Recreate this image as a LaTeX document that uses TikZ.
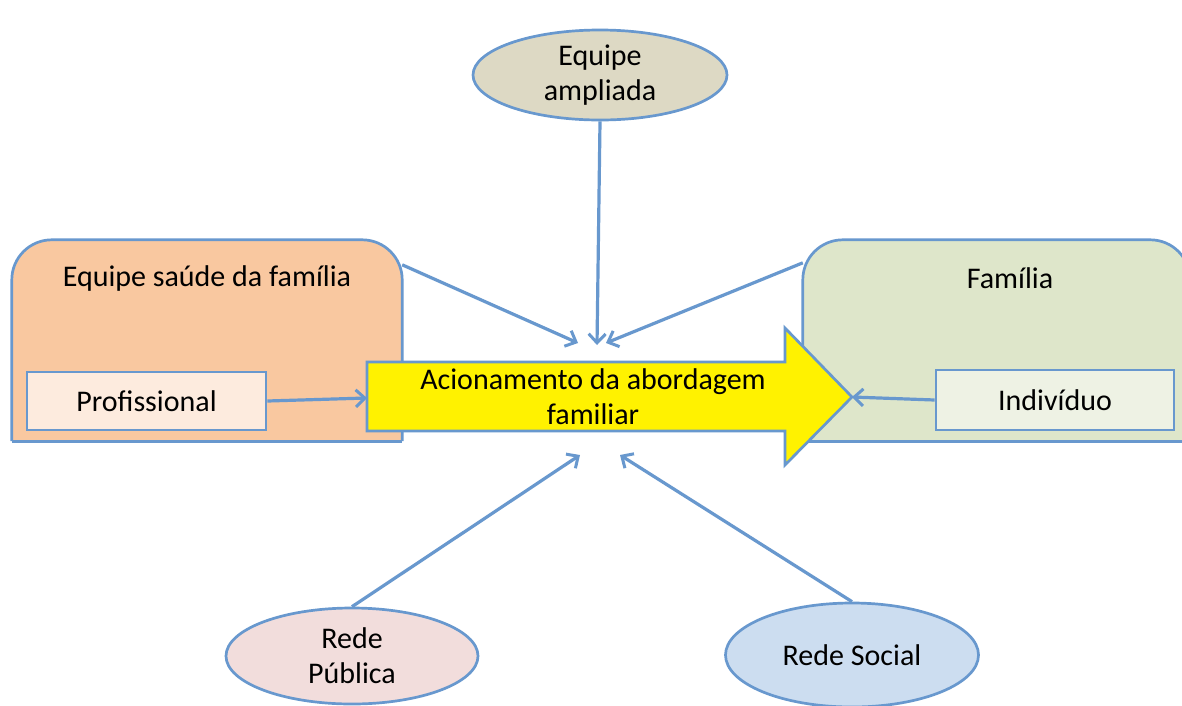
\documentclass[tikz,border=0pt]{standalone}
\usepackage{fontspec}
\setmainfont{Carlito}
\usetikzlibrary{arrows.meta,shapes.geometric}
\definecolor{edge}{RGB}{104,152,206}
\definecolor{peach}{RGB}{249,200,160}
\definecolor{peachlight}{RGB}{253,235,222}
\definecolor{sage}{RGB}{222,230,202}
\definecolor{sagelight}{RGB}{238,242,228}
\definecolor{khaki}{RGB}{221,217,196}
\definecolor{rose}{RGB}{242,221,220}
\definecolor{sky}{RGB}{204,221,240}
\tikzset{
  lbl/.style={font=\fontsize{30}{35}\selectfont, align=center, inner sep=0pt},
  frame/.style={draw=none, inner sep=0pt},
  boxline/.style={draw=edge, line width=2.7pt, line join=round},
  inner/.style={draw=edge, line width=2.7pt, inner sep=0pt, font=\fontsize{30}{35}\selectfont},
  bubble/.style={ellipse, draw=edge, line width=2.7pt, inner sep=0pt, align=center,
    font=\fontsize{30}{35}\selectfont},
  conn/.style={draw=edge, line width=3.2pt, -{Straight Barb[length=9pt,width=17pt,line width=3pt]}},
}
\begin{document}
\begin{tikzpicture}[x=1pt,y=-1pt]
\clip (0,0) rectangle (1182,705);
\fill[white] (0,0) rectangle (1182,705);

% outer frames
\node[frame, minimum width=390pt, minimum height=201pt] (esf) at (207,340.5) {};
\node[frame, minimum width=387pt, minimum height=201pt] (fam) at (996.5,340.5) {};
\filldraw[boxline, fill=peach, rounded corners=40pt]
  (esf.south west) -- (esf.north west) -- (esf.north east) -- (esf.south east);
\draw[boxline] (esf.south west) -- (esf.south east);
\filldraw[boxline, fill=sage, rounded corners=40pt]
  (fam.south west) -- (fam.north west) -- (fam.north east) -- (fam.south east);
\draw[boxline] (fam.south west) -- (fam.south east);
\node[lbl] (esft) at (207,278) {Equipe saúde da família};
\node[lbl] (famt) at (1010,278) {Família};

% inner boxes
\node[inner, fill=peachlight, minimum width=239pt, minimum height=58pt] (prof) at (146.5,401) {Profissional};
\node[inner, fill=sagelight, minimum width=238pt, minimum height=60pt] (ind) at (1055,400) {Indivíduo};

% central block arrow
\coordinate (bl) at (367,362);
\coordinate (tip) at (852,397);
\filldraw[boxline, fill=yellow, line join=miter]
  (bl) -- (785,362) -- (785,328) -- (tip) -- (785,465) -- (785,431) -- (367,431) -- cycle;
\node[lbl] (acion) at (593,397) {Acionamento da abordagem\\familiar};

% ellipses
\node[bubble, fill=khaki, minimum width=254pt, minimum height=90pt] (amp) at (600,75) {Equipe\\ampliada};
\node[bubble, fill=rose, minimum width=252pt, minimum height=96pt] (rp) at (352,656) {Rede\\Pública};
\node[bubble, fill=sky, minimum width=253pt, minimum height=104pt] (rs) at (852,655) {Rede Social};

% free ends of the connectors
\coordinate (inTop) at (597,345);
\coordinate (inTL) at (578,343);
\coordinate (inTR) at (606,343);
\coordinate (inBL) at (580,455);
\coordinate (inBR) at (620,455);
\coordinate (inL) at (367,398);

% connectors
\draw[conn] (amp.south) -- (inTop);
\draw[conn] ([yshift=-25pt]esf.north east) -- (inTL);
\draw[conn] ([yshift=-23pt]fam.north west) -- (inTR);
\draw[conn] (prof.east) -- (inL);
\draw[conn] (ind.west) -- (tip);
\draw[conn] (rp.north) -- (inBL);
\draw[conn] (rs.north) -- (inBR);
\end{tikzpicture}
\end{document}
